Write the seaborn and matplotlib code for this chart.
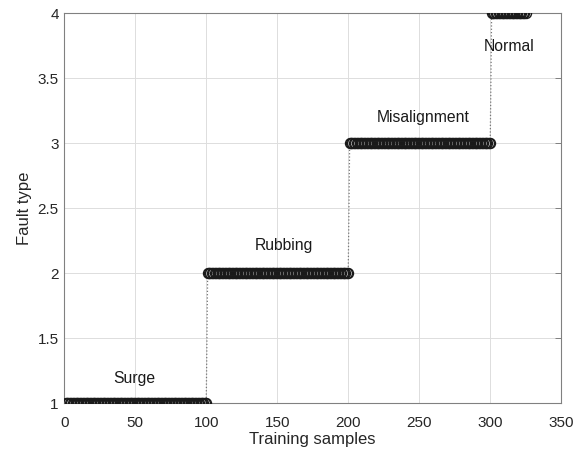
import numpy as np
import pandas as pd
import matplotlib
matplotlib.use("Agg")
import matplotlib.pyplot as plt
import seaborn as sns

# Class label of each block of training samples and how many samples it holds
fault_types = [1, 2, 3, 4]
samples_per_type = [100, 100, 100, 25]
type_names = ["Surge", "Rubbing", "Misalignment", "Normal"]
label_x = [49, 155, 253, 313]
label_y = [1.19, 2.21, 3.20, 3.74]

x_ticks = [0, 50, 100, 150, 200, 250, 300, 350]
y_ticks = [1, 1.5, 2, 2.5, 3, 3.5, 4]

labels = np.repeat(fault_types, samples_per_type)
df = pd.DataFrame({"sample": np.arange(1, len(labels) + 1), "fault": labels})

sns.set_style("white")
plt.rcParams["font.family"] = ["Liberation Sans", "DejaVu Sans"]

fig = plt.figure(figsize=(5.84, 4.53), dpi=100)
ax = fig.add_axes([0.110, 0.110, 0.851, 0.861])

sns.lineplot(
    data=df, x="sample", y="fault", ax=ax,
    color="#777777", linestyle=":", linewidth=0.9,
    marker="o", markersize=7.2, markerfacecolor="none",
    markeredgecolor="#1a1a1a", markeredgewidth=1.0,
    errorbar=None, zorder=3,
)

for name, tx, ty in zip(type_names, label_x, label_y):
    ax.text(tx, ty, name, ha="center", va="center", fontsize=11.3, color="#1a1a1a")

ax.set_xlim(0, 350)
ax.set_ylim(1, 4)
ax.set_xticks(x_ticks)
ax.set_yticks(y_ticks)
ax.set_yticklabels([f"{v:g}" for v in y_ticks])
ax.set_xlabel("Training samples", fontsize=12, color="#262626", labelpad=2)
ax.set_ylabel("Fault type", fontsize=12, color="#262626", labelpad=4)

ax.grid(True, color="#dddddd", linewidth=0.7)
ax.set_axisbelow(True)
for s in ax.spines.values():
    s.set_color("#808080")
    s.set_linewidth(0.8)
ax.tick_params(direction="in", length=4, width=0.7, color="#808080",
               labelsize=11, labelcolor="#262626", right=True)
ax.tick_params(axis="x", pad=9)
ax.tick_params(axis="y", pad=4)

fig.savefig("out.png", dpi=100)
